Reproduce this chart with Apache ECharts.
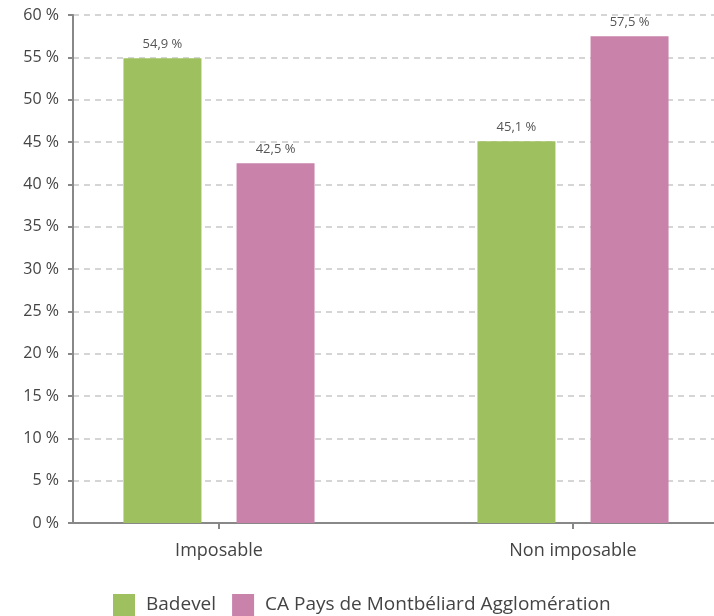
<!DOCTYPE html>
<html><head><meta charset="utf-8">
<script src="https://cdn.jsdelivr.net/npm/echarts@6/dist/echarts.min.js"></script>
<style>html,body{margin:0;padding:0;background:#fff;overflow:hidden;width:714px;height:616px}#c{width:750px;height:616px}</style>
</head><body><div id="c"></div>
<script>
const categories = ['Imposable', 'Non imposable'];
const seriesNames = ['Badevel', 'CA Pays de Montbéliard Agglomération'];
const badevel = [54.9, 45.1];
const caPays = [42.5, 57.5];
const colors = ['#9FC05F', '#C982AA'];
const FONT = '"Open Sans", sans-serif';
const fmt = v => String(v.toFixed(1)).replace('.', ',') + ' %';

const chart = echarts.init(document.getElementById('c'));
const label = {show: true, position: 'top', distance: 7, color: '#555', fontFamily: FONT, fontSize: 13, formatter: p => fmt(p.value)};
chart.setOption({
  animation: false,
  textStyle: {fontFamily: FONT},
  legend: {
    left: 113, top: 594, padding: 0, itemWidth: 22, itemHeight: 22, itemGap: 16, icon: 'rect',
    textStyle: {fontFamily: FONT, fontSize: 19, color: '#444', padding: [0, 0, 0, 6]},
    data: seriesNames
  },
  grid: [
    {left: 73, right: 36, top: 15, bottom: 93},
    {left: 42, right: 0, top: 15, bottom: 93}
  ],
  xAxis: [
    {gridIndex: 0, type: 'value', min: 0, max: 1, axisLine: {show: true, lineStyle: {color: '#888', width: 2}}, axisTick: {show: false}, axisLabel: {show: false}, splitLine: {show: false}},
    {gridIndex: 1, type: 'category', data: categories, axisLine: {show: false}, axisTick: {show: true, alignWithLabel: true, length: 6, lineStyle: {color: '#888', width: 2}}, axisLabel: {color: '#444', fontSize: 18, fontFamily: FONT, margin: 19}}
  ],
  yAxis: [
    {gridIndex: 0, type: 'value', min: 0, max: 60, interval: 5,
      axisLine: {show: true, lineStyle: {color: '#888', width: 2}},
      axisTick: {show: true, length: 5, lineStyle: {color: '#888', width: 2}},
      axisLabel: {color: '#444', fontSize: 16, fontFamily: FONT, margin: 14, formatter: v => v + ' %'},
      splitLine: {show: true, lineStyle: {color: '#c8c8c8', type: [6, 5], width: 1.5}}},
    {gridIndex: 1, type: 'value', min: 0, max: 60, show: false, splitLine: {show: false}}
  ],
  series: [
    {name: seriesNames[0], type: 'bar', xAxisIndex: 1, yAxisIndex: 1, data: badevel, barWidth: 78, barGap: '45%', itemStyle: {color: colors[0]}, label: label},
    {name: seriesNames[1], type: 'bar', xAxisIndex: 1, yAxisIndex: 1, data: caPays, barWidth: 78, barGap: '45%', itemStyle: {color: colors[1]}, label: label}
  ]
});
</script></body></html>
